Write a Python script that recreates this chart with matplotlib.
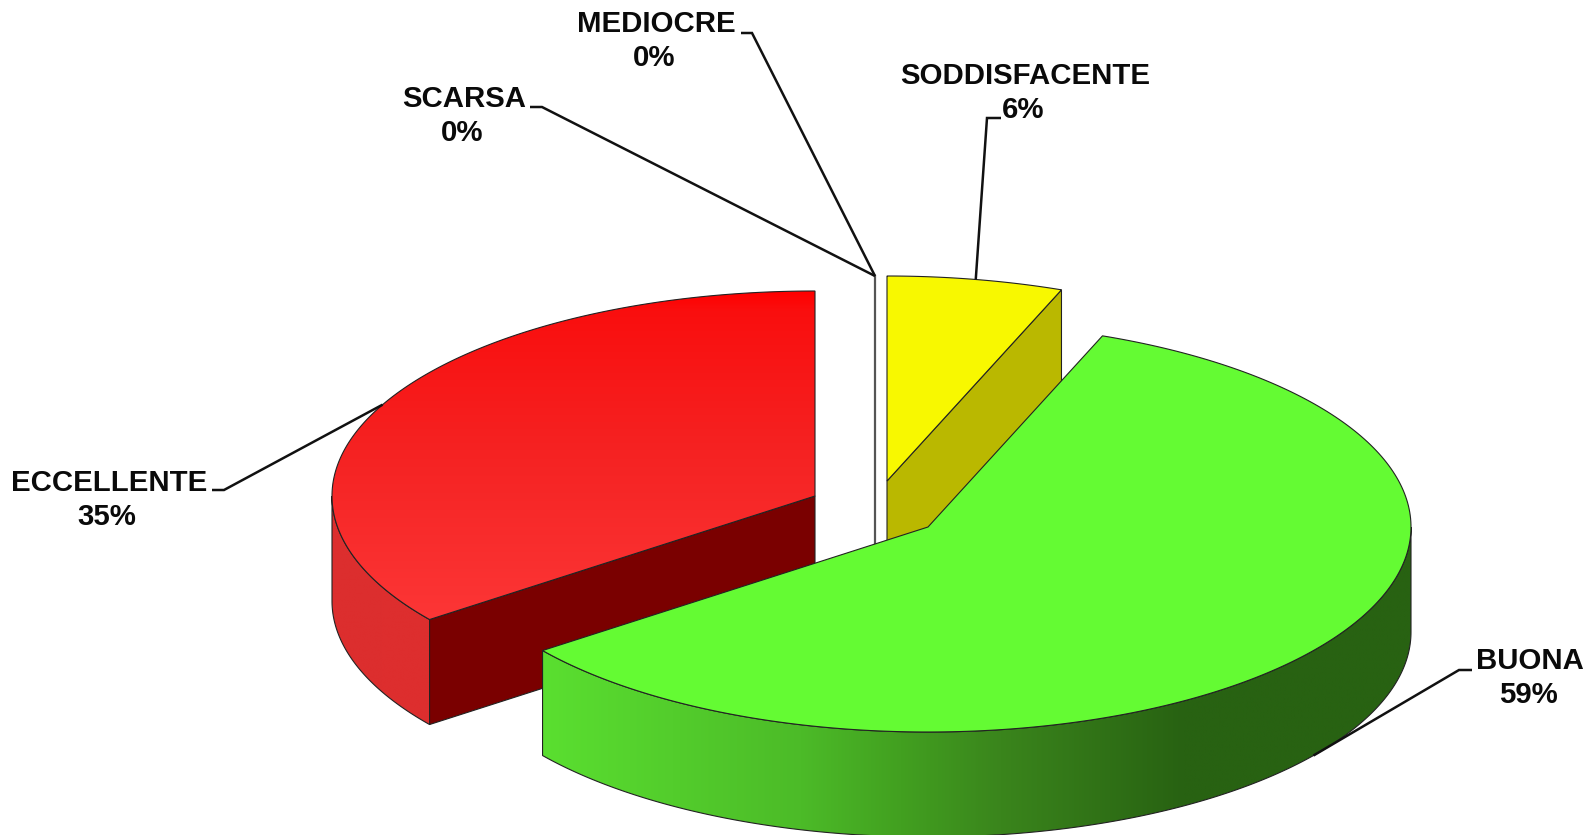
import numpy as np
import matplotlib
matplotlib.use("Agg")
import matplotlib.pyplot as plt
from matplotlib.patches import Polygon
from matplotlib.colors import to_rgb

# data, clockwise from 12 o'clock
categories = ["SODDISFACENTE", "BUONA", "ECCELLENTE", "SCARSA", "MEDIOCRE"]
counts = [1, 10, 6, 0, 0]

# layout in pixels of the picture
centers = [(887, 481), (928, 527), (815, 496), (875, 481), (875, 481)]
label_x = [1025, 1530, 109, 464, 656]
label_y = [84, 669, 491, 107, 32]
elbows = [[(1001, 118), (987, 118)], [(1472, 670), (1459, 670)], [(212, 490), (224, 490)],
          [(530, 107), (542, 107)], [(741, 33), (752, 33)]]
RX, RY, DEPTH = 483, 205, 105

plt.rcParams["font.family"] = ["Liberation Sans", "DejaVu Sans"]
fig = plt.figure(figsize=(15.94, 8.35), dpi=100)
ax = fig.add_axes([0, 0, 1, 1])
z = [1]


def next_z():
    z[0] += 1
    return z[0]


def pt(c, ang, dz=0):
    a = np.radians(ang)
    return c[0] + RX * np.sin(a), c[1] - RY * np.cos(a) + dz


def arc(c, a0, a1, dz=0):
    t = np.linspace(a0, a1, 240)
    return np.column_stack(pt(c, t, dz))


def poly(xy, color="none"):
    ax.add_patch(Polygon(xy, closed=True, fc=color, ec="#222222", lw=0.8, zorder=next_z()))


def grad_poly(xy, stops, vertical=False):
    # gradient fill clipped to the polygon, outline on top
    xy = np.asarray(xy)
    x0, x1 = xy[:, 0].min(), xy[:, 0].max()
    y0, y1 = xy[:, 1].min(), xy[:, 1].max()
    pos = np.linspace(y0, y1, 512) if vertical else np.linspace(x0, x1, 512)
    px = [s[0] for s in stops]
    rgb = np.array([to_rgb(s[1]) for s in stops])
    g = np.column_stack([np.interp(pos, px, rgb[:, k]) for k in range(3)])
    g = g[:, None, :] if vertical else g[None, :, :]
    im = ax.imshow(g, extent=[x0, x1, y1, y0], aspect="auto", origin="upper",
                   interpolation="bilinear", zorder=next_z())
    im.set_clip_path(Polygon(xy, closed=True, transform=ax.transData))
    poly(xy)


def top_face(c, a0, a1):
    return np.vstack([[c], arc(c, a0, a1)])


def side_face(c, a0, a1):
    return np.vstack([arc(c, a0, a1), arc(c, a1, a0, DEPTH)])


def wall(c, ang):
    return [c, pt(c, ang), pt(c, ang, DEPTH), (c[0], c[1] + DEPTH)]


total = sum(counts)
angles = np.cumsum([0] + counts) / total * 360
y_c, g_c, r_c, z_c = centers[0], centers[1], centers[2], centers[3]
a_y, a_g, a_r = angles[1], angles[2], angles[3]

# ECCELLENTE
grad_poly(side_face(r_c, a_g, 270), [(332, "#DC2E2E"), (432, "#DE2E2E")])
poly(wall(r_c, a_g), "#7A0000")
grad_poly(top_face(r_c, a_g, a_r), [(292, "#FF0000"), (310, "#FA0E0E"), (450, "#F52222"), (620, "#FC3636")],
          vertical=True)

# zero slices: only a line remains
ax.plot([z_c[0], z_c[0]], [z_c[1] - RY, z_c[1] + DEPTH], color="#555555", lw=1.6, zorder=next_z())

# SODDISFACENTE
poly(wall(y_c, a_y), "#BAB800")
poly(top_face(y_c, 0, a_y), "#F8F800")

# BUONA
grad_poly(side_face(g_c, 90, a_g),
          [(543, "#5ADF30"), (800, "#4CBB28"), (900, "#42A020"), (1000, "#3A851C"),
           (1183, "#286212"), (1412, "#286212")])
poly(top_face(g_c, a_y, a_g), "#64FB33")

# labels and leaders
mid = (angles[:-1] + angles[1:]) / 2
for i, name in enumerate(categories):
    pct = round(100 * counts[i] / total)
    ax.text(label_x[i], label_y[i], name, ha="center", va="baseline", fontsize=21.2,
            fontweight="bold", color="#0a0a0a", zorder=100)
    ax.text(label_x[i] - 2, label_y[i] + 34, f"{pct}%", ha="center", va="baseline", fontsize=21.2,
            fontweight="bold", color="#0a0a0a", zorder=100)
    if counts[i] == 0:
        end = (z_c[0], z_c[1] - RY)
    elif 90 < mid[i] < 270:
        end = pt(centers[i], mid[i], DEPTH)
    else:
        end = pt(centers[i], mid[i])
    pts = elbows[i] + [end]
    ax.plot([p[0] for p in pts], [p[1] for p in pts], color="#111111", lw=1.8, zorder=99,
            solid_capstyle="butt", solid_joinstyle="miter")

ax.set_xlim(0, 1594)
ax.set_ylim(835, 0)
ax.axis("off")
fig.savefig("out.png", dpi=100, facecolor="white")
